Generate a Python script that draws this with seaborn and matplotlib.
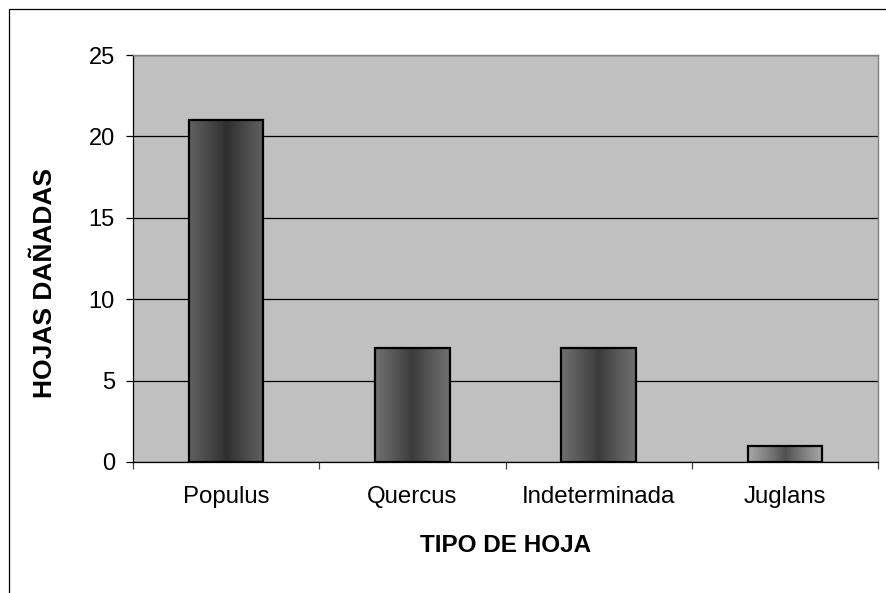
import numpy as np
import pandas as pd
import matplotlib
matplotlib.use("Agg")
import matplotlib.pyplot as plt
from matplotlib.patches import Rectangle
import seaborn as sns

# Data
categorias = ["Populus", "Quercus", "Indeterminada", "Juglans"]
hojas_danadas = [21, 7, 7, 1]
y_ticks = [0, 5, 10, 15, 20, 25]

# Shading of each bar: (edge grey, centre grey) on a 0..1 scale
bar_shades = [(0.38, 0.18), (0.44, 0.23), (0.44, 0.23), (0.66, 0.31)]

sns.set_theme(style="white")
plt.rcParams["font.family"] = ["Liberation Sans", "DejaVu Sans"]

df = pd.DataFrame({"tipo": categorias, "hojas": hojas_danadas})

fig = plt.figure(figsize=(8.86, 5.93), dpi=100)
fig.patch.set_facecolor("white")
ax = fig.add_axes([133 / 886, 1 - 462 / 593, (878 - 133) / 886, (462 - 55) / 593])

sns.barplot(data=df, x="tipo", y="hojas", ax=ax, width=0.4, color="#444444",
            edgecolor="black", linewidth=1.6, zorder=3)

# Horizontal gradient fill inside each bar (light edges, dark centre)
t = np.linspace(-1, 1, 256)
for patch, (edge, centre) in zip(ax.patches, bar_shades):
    x0, y0 = patch.get_x(), patch.get_y()
    w, h = patch.get_width(), patch.get_height()
    profile = centre + (edge - centre) * np.abs(t) ** 0.9
    img = ax.imshow(profile[np.newaxis, :], cmap="gray", vmin=0, vmax=1,
                    extent=[x0, x0 + w, y0, y0 + h], aspect="auto",
                    interpolation="bilinear", zorder=2.9)
    img.set_clip_path(patch)
    patch.set_facecolor("none")

ax.set_xlim(-0.5, len(categorias) - 0.5)
ax.set_ylim(0, 25)
ax.set_facecolor("#c0c0c0")

# Grid lines
ax.set_yticks(y_ticks)
ax.yaxis.grid(True, color="black", linewidth=0.9)
ax.xaxis.grid(False)
ax.set_axisbelow(True)

# Spines
for side in ("top", "right"):
    ax.spines[side].set_color("#808080")
    ax.spines[side].set_linewidth(1.0)
for side in ("left", "bottom"):
    ax.spines[side].set_color("black")
    ax.spines[side].set_linewidth(0.9)

# Ticks
ax.tick_params(axis="y", which="major", direction="out", length=5, width=0.9,
               color="black", pad=8, labelsize=17, left=True)
ax.set_xticks(range(len(categorias)))
ax.set_xticklabels(categorias)
ax.set_xticks(np.arange(-0.5, len(categorias), 1.0), minor=True)
ax.tick_params(axis="x", which="major", length=0, pad=17, labelsize=17.3)
ax.tick_params(axis="x", which="minor", direction="out", length=5, width=0.9,
               color="#404040", bottom=True)
for lbl in ax.get_xticklabels() + ax.get_yticklabels():
    lbl.set_color("black")

ax.set_xlabel("")
ax.set_ylabel("")

# Axis titles
fig.text(506 / 886, 1 - 546 / 593, "TIPO DE HOJA", ha="center", va="center",
         fontsize=17.5, fontweight="bold", color="black")
fig.text(45 / 886, 1 - 283 / 593, "HOJAS DAÑADAS", ha="center", va="center",
         rotation=90, fontsize=19, fontweight="bold", color="black")

# Chart area frame
fig.patches.append(Rectangle((9 / 886, -0.2), 2.0, (593 - 9) / 593 + 0.2,
                             transform=fig.transFigure, fill=False,
                             edgecolor="black", linewidth=0.9))

fig.savefig("out.png", dpi=100, facecolor="white")
